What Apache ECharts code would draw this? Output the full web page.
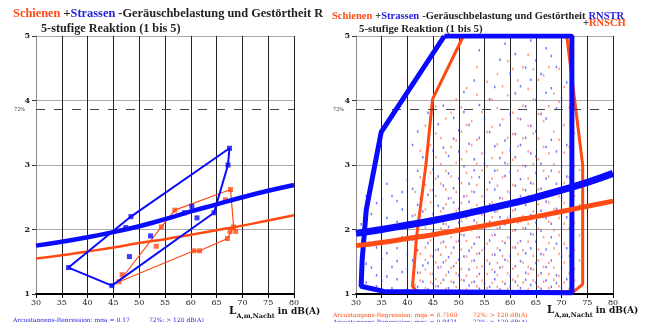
<!DOCTYPE html>
<html>
<head>
<meta charset="utf-8">
<script src="https://cdn.jsdelivr.net/npm/echarts@6/dist/echarts.min.js"></script>
<style>
  html, body { margin: 0; background: #fff; }
  #chart { width: 646px; height: 322px; }
</style>
</head>
<body>
<div id="chart"></div>
<script>
// regression curves, sampled along the x axis
const regX = [30, 35, 40, 45, 50, 55, 60, 65, 70, 75, 80];
const leftBlueReg = [1.75, 1.81, 1.88, 1.96, 2.05, 2.16, 2.28, 2.39, 2.50, 2.60, 2.69];
const leftOrangeReg = [1.55, 1.60, 1.66, 1.72, 1.79, 1.85, 1.92, 1.99, 2.06, 2.14, 2.22];
const rightBlueReg = [1.94, 2.00, 2.07, 2.14, 2.22, 2.31, 2.40, 2.50, 2.61, 2.73, 2.87];
const rightOrangeReg = [1.75, 1.80, 1.86, 1.92, 1.99, 2.06, 2.13, 2.20, 2.28, 2.36, 2.44];

// left: class means (squares) and their outlines
const leftBlueLoop = [[36.3, 1.41], [48.4, 2.20], [67.5, 3.26], [67.2, 3.00], [64.5, 2.26], [44.7, 1.13], [36.3, 1.41]];
const leftBlueExtra = [[47.4, 2.03], [52.2, 1.90], [48.1, 1.58], [58.8, 2.26], [60.2, 2.36], [61.2, 2.18]];
const leftOrangeLoop = [[46.1, 1.19], [54.3, 2.04], [56.9, 2.30], [67.7, 2.62], [68.3, 2.04], [67.1, 1.86], [61.7, 1.67], [60.6, 1.67], [46.1, 1.19]];
const leftOrangeExtra = [[46.7, 1.30], [53.3, 1.74], [66.7, 2.46], [67.6, 1.97], [68.7, 1.97]];

// right: envelopes of the single answers
const rightBlueHull = [[47.2, 5], [34.9, 3.51], [32.0, 2.31], [31.2, 1.53], [31.0, 1.12], [35.4, 1.04], [72.0, 1.02], [72.0, 5], [47.2, 5]];
const rightOrangeHull = [[50.9, 5], [44.9, 4.02], [43.6, 3.0], [41.8, 1.9], [41.0, 1.12], [41.8, 1.04], [72.4, 1.04], [74.1, 1.15], [74.1, 3.0], [71.0, 5], [50.9, 5]];

// right: single answers, by level column
const rightBlueCols = [
  [31, [1.32, 1.61, 2.08]],
  [32, [1.18, 1.47, 1.93, 2.52]],
  [33, [1.41, 1.77, 2.24, 2.63]],
  [34, [1.12, 1.29, 1.72, 2.41]],
  [35, [1.21, 1.54, 1.96, 2.47]],
  [36, [1.27, 1.63, 2.18, 2.71]],
  [37, [1.09, 1.42, 1.83, 2.52]],
  [38, [1.23, 1.51, 1.71, 2.12, 2.44]],
  [39, [1.34, 1.88, 2.31, 2.58]],
  [40, [1.08, 1.39, 1.62, 2.03, 2.77]],
  [41, [1.17, 1.52, 1.84, 2.21, 2.63, 3.31]],
  [42, [1.11, 1.33, 1.68, 2.02, 2.38, 2.91, 3.52]],
  [43, [1.19, 1.44, 1.87, 2.28, 2.73, 3.12]],
  [44, [1.07, 1.48, 1.79, 2.13, 2.54, 3.38, 3.81]],
  [45, [1.16, 1.31, 1.58, 1.97, 2.24, 2.61, 2.93, 3.22]],
  [46, [1.12, 1.41, 1.69, 1.92, 2.37, 2.82, 3.63]],
  [47, [1.22, 1.49, 1.81, 2.09, 2.33, 2.68, 3.27, 3.92]],
  [48, [1.09, 1.34, 1.57, 2.04, 2.48, 2.87, 3.14, 4.52]],
  [49, [1.18, 1.43, 1.72, 2.19, 2.42, 2.64, 3.41, 3.73]],
  [50, [1.06, 1.29, 1.53, 1.82, 2.11, 2.32, 2.79, 3.21, 3.54]],
  [51, [1.21, 1.58, 1.91, 2.23, 2.51, 2.98, 3.82, 4.13]],
  [52, [1.13, 1.38, 1.67, 2.02, 2.43, 2.71, 3.33, 3.62]],
  [53, [1.19, 1.52, 1.78, 2.14, 2.58, 2.92, 3.09, 4.31]],
  [54, [1.08, 1.31, 1.63, 1.88, 2.27, 2.81, 3.42, 3.93, 4.78]],
  [55, [1.17, 1.42, 1.71, 2.01, 2.22, 2.53, 3.02, 3.19, 3.71]],
  [56, [1.11, 1.47, 1.83, 2.12, 2.39, 2.73, 3.51, 4.02]],
  [57, [1.23, 1.34, 1.61, 1.92, 2.28, 2.62, 2.91, 3.29, 4.21]],
  [58, [1.07, 1.41, 1.68, 2.03, 2.19, 2.49, 3.11, 3.62, 4.63]],
  [59, [1.16, 1.53, 1.79, 2.08, 2.41, 2.83, 3.03, 3.38, 4.88]],
  [60, [1.12, 1.28, 1.59, 1.87, 2.21, 2.57, 2.89, 3.23, 3.79, 4.42]],
  [61, [1.19, 1.43, 1.72, 1.99, 2.31, 2.68, 3.12, 3.48, 4.11, 4.72]],
  [62, [1.09, 1.51, 1.82, 2.13, 2.52, 2.78, 3.31, 3.71, 4.22]],
  [63, [1.22, 1.33, 1.63, 2.02, 2.38, 2.61, 2.98, 3.42, 3.91, 4.51]],
  [64, [1.14, 1.39, 1.71, 1.93, 2.22, 2.72, 3.18, 3.61, 4.32, 4.93]],
  [65, [1.18, 1.48, 1.81, 2.11, 2.47, 2.88, 3.13, 3.52, 4.01, 4.62]],
  [66, [1.08, 1.32, 1.62, 1.98, 2.29, 2.63, 3.02, 3.79, 4.41]],
  [67, [1.21, 1.42, 1.69, 2.18, 2.43, 2.79, 3.28, 3.72, 4.12, 4.81]],
  [68, [1.11, 1.52, 1.88, 2.09, 2.58, 2.91, 3.39, 4.19, 4.69]],
  [69, [1.17, 1.29, 1.78, 2.32, 2.71, 3.21, 3.88, 4.52]],
  [70, [1.09, 1.41, 1.58, 2.01, 2.49, 2.98, 3.61, 4.03, 4.91]],
  [71, [1.23, 1.71, 2.19, 2.82, 3.31, 4.28]]
];
const rightOrangeCols = [
  [41.5, [1.14, 1.42, 1.81, 2.23, 2.58]],
  [42.5, [1.21, 1.33, 1.62, 1.91, 2.12, 2.48, 2.81, 3.22]],
  [43.5, [1.09, 1.38, 1.53, 1.72, 2.03, 2.31, 2.69, 3.02, 3.61]],
  [44.5, [1.18, 1.31, 1.59, 1.83, 2.09, 2.42, 2.61, 2.88, 3.31]],
  [45.5, [1.12, 1.23, 1.49, 1.68, 1.92, 2.19, 2.52, 2.79, 3.12, 3.49, 3.91]],
  [46.5, [1.17, 1.42, 1.61, 1.79, 2.02, 2.28, 2.71, 3.01, 3.42]],
  [47.5, [1.08, 1.29, 1.52, 1.73, 2.08, 2.39, 2.62, 2.91, 3.19, 3.72]],
  [48.5, [1.19, 1.41, 1.63, 1.88, 2.21, 2.49, 2.82, 3.28, 3.81]],
  [49.5, [1.11, 1.32, 1.48, 1.81, 2.02, 2.29, 2.58, 3.03, 3.38, 4.02]],
  [50.5, [1.22, 1.39, 1.69, 1.92, 2.13, 2.41, 2.72, 3.09, 3.52, 3.89]],
  [51.5, [1.07, 1.28, 1.58, 1.82, 2.18, 2.52, 2.88, 3.21, 3.62, 4.19]],
  [52.5, [1.18, 1.51, 1.72, 1.99, 2.32, 2.59, 2.81, 3.31, 3.68]],
  [53.5, [1.12, 1.27, 1.41, 1.62, 1.88, 2.11, 2.38, 2.69, 3.02, 3.39, 4.09, 4.52]],
  [54.5, [1.21, 1.43, 1.68, 2.01, 2.23, 2.51, 2.92, 3.18, 3.82]],
  [55.5, [1.09, 1.31, 1.52, 1.78, 2.09, 2.31, 2.62, 2.98, 3.51, 4.29]],
  [56.5, [1.17, 1.38, 1.61, 1.91, 2.19, 2.42, 2.79, 3.11, 3.59, 4.01]],
  [57.5, [1.11, 1.29, 1.48, 1.71, 2.02, 2.28, 2.68, 2.92, 3.32, 3.88, 4.41]],
  [58.5, [1.19, 1.42, 1.59, 1.82, 2.12, 2.48, 2.81, 3.19, 3.71, 4.22]],
  [59.5, [1.08, 1.32, 1.51, 1.88, 2.18, 2.41, 2.59, 3.01, 3.42, 4.08, 4.61]],
  [60.5, [1.22, 1.39, 1.72, 1.98, 2.29, 2.69, 3.08, 3.48, 3.81, 4.49]],
  [61.5, [1.13, 1.28, 1.62, 1.79, 2.11, 2.38, 2.91, 3.29, 3.72, 4.31]],
  [62.5, [1.18, 1.49, 1.68, 2.02, 2.21, 2.62, 2.99, 3.41, 3.92, 4.52]],
  [63.5, [1.07, 1.31, 1.42, 1.81, 2.09, 2.52, 2.79, 3.21, 3.61, 4.18, 4.71]],
  [64.5, [1.21, 1.38, 1.59, 1.92, 2.28, 2.71, 3.02, 3.49, 4.02, 4.48]],
  [65.5, [1.11, 1.29, 1.52, 1.69, 2.01, 2.39, 2.62, 3.09, 3.41, 3.79, 4.32]],
  [66.5, [1.19, 1.42, 1.61, 1.88, 2.19, 2.49, 2.91, 3.28, 3.68, 4.39]],
  [67.5, [1.09, 1.31, 1.48, 1.79, 2.12, 2.42, 2.82, 3.18, 3.91, 4.52]],
  [68.5, [1.22, 1.41, 1.71, 1.99, 2.31, 2.58, 3.01, 3.52, 4.11]],
  [69.5, [1.12, 1.28, 1.62, 1.91, 2.18, 2.51, 2.89, 3.39, 3.98, 4.49]],
  [70.5, [1.18, 1.49, 1.78, 2.09, 2.41, 2.72, 3.19, 3.62, 4.21]],
  [71.5, [1.08, 1.32, 1.59, 2.02, 2.29, 2.81, 3.28, 3.89]],
  [72.5, [1.21, 1.39, 1.68, 2.11, 2.52, 2.98, 3.49]],
  [73.5, [1.12, 1.52, 1.91, 2.38, 2.92]]
];

const line72 = 3.86;

const ORANGE = '#ff4a14';
const BLUE = '#0a0aff';
const SERIF = '"DejaVu Serif", "Liberation Serif", serif';
const TSERIF = '"Liberation Serif", "DejaVu Serif", serif';

const flat = cols => cols.flatMap(([x, ys]) => ys.map(y => [x, y]));
const zipReg = ys => regX.map((x, i) => [x, ys[i]]);

const xAxisBase = (gi) => ({
  gridIndex: gi, type: 'value', min: 30, max: 80, interval: 5,
  axisLine: { lineStyle: { color: '#000', width: 2 } },
  axisTick: { length: 4, lineStyle: { color: '#000' } },
  axisLabel: { color: '#222', fontFamily: SERIF, fontSize: 8, margin: 5 },
  splitLine: { show: true, lineStyle: { color: '#222', width: 1 } }
});
const yAxisBase = (gi) => ({
  gridIndex: gi, type: 'value', min: 1, max: 5, interval: 1,
  axisLine: { show: true, lineStyle: { color: '#888', width: 1 } },
  axisTick: { show: true, length: 4, lineStyle: { color: '#333' } },
  axisLabel: { color: '#222', fontFamily: SERIF, fontWeight: 'bold', fontSize: 8, margin: 6 },
  splitLine: { show: true, lineStyle: { color: '#aaa', width: 1 } }
});

const dashed72 = {
  silent: true, symbol: 'none', label: { show: false },
  lineStyle: { color: '#444', type: [9, 9], width: 1 },
  data: [{ yAxis: line72 }]
};

const lineS = (xi, data, color, width, extra) => Object.assign({
  type: 'line', xAxisIndex: xi, yAxisIndex: xi, data: data,
  showSymbol: false, symbol: 'none', silent: true, animation: false,
  lineStyle: { color: color, width: width }, itemStyle: { color: color }
}, extra || {});

const squares = (xi, data, color) => ({
  type: 'scatter', xAxisIndex: xi, yAxisIndex: xi, data: data,
  symbol: 'rect', symbolSize: 5, itemStyle: { color: color }, silent: true, animation: false
});

const dots = (data, color) => ({
  type: 'scatter', xAxisIndex: 1, yAxisIndex: 1, data: data,
  symbol: 'rect', symbolSize: [1.5, 2.5], itemStyle: { color: color }, silent: true, animation: false
});

const rt = (x, y, rich, text, z) => ({
  type: 'text', left: x, top: y, z: z || 40, silent: true,
  style: { text: text, rich: rich, fontFamily: TSERIF, fontWeight: 'bold' }
});

const titleRich = (fs) => ({
  o: { fill: ORANGE, fontSize: fs, fontFamily: TSERIF, fontWeight: 'bold' },
  b: { fill: '#2222dd', fontSize: fs, fontFamily: TSERIF, fontWeight: 'bold' },
  k: { fill: '#222', fontSize: fs, fontFamily: TSERIF, fontWeight: 'bold' }
});
const axisNameRich = {
  l: { fill: '#111', fontSize: 10.5, fontFamily: SERIF, fontWeight: 'bold', lineHeight: 16, verticalAlign: 'middle' },
  s: { fill: '#111', fontSize: 6.5, fontFamily: SERIF, fontWeight: 'bold', lineHeight: 16, verticalAlign: 'bottom' },
  n: { fill: '#111', fontSize: 9, fontFamily: SERIF, fontWeight: 'bold', lineHeight: 16, verticalAlign: 'middle' }
};
const footRich = {
  o: { fill: ORANGE, fontSize: 6, fontFamily: SERIF },
  b: { fill: '#2222dd', fontSize: 6, fontFamily: SERIF }
};

const chart = echarts.init(document.getElementById('chart'));
chart.setOption({
  backgroundColor: '#fff',
  animation: false,
  grid: [
    { left: 36, top: 36, width: 258, height: 258 },
    { left: 356, top: 36, width: 257, height: 258 }
  ],
  xAxis: [xAxisBase(0), xAxisBase(1)],
  yAxis: [yAxisBase(0), yAxisBase(1)],
  graphic: [
    rt(13, 8, titleRich(12.4), '{o|Schienen} {k|+}{b|Strassen} {k|-Geräuschbelastung und Gestörtheit RNSTR}', 40),
    { type: 'rect', shape: { x: 323, y: 0, width: 323, height: 26 }, style: { fill: '#fff' }, z: 50, silent: true },
    rt(41, 23, titleRich(12.2), '{k|5-stufige Reaktion (1 bis 5)}', 40),
    rt(332, 10, titleRich(10.5), '{o|Schienen} {k|+}{b|Strassen} {k|-Geräuschbelastung und Gestörtheit} {b|RNSTR}', 60),
    rt(583, 18, titleRich(10.5), '{k|+}{o|RNSCH}', 60),
    rt(359, 24, titleRich(10.8), '{k|5-stufige Reaktion (1 bis 5)}', 60),
    rt(14, 107, { k: { fill: '#333', fontSize: 5, fontFamily: SERIF } }, '{k|72%}', 40),
    rt(333, 107, { k: { fill: '#333', fontSize: 5, fontFamily: SERIF } }, '{k|72%}', 40),
    rt(229, 306, axisNameRich, '{l|L}{s|A,m,Nacht}{n| in dB(A)}', 40),
    rt(547, 305, axisNameRich, '{l|L}{s|A,m,Nacht}{n| in dB(A)}', 40),
    rt(13, 317, footRich, '{b|Arcustangens-Regression: mqa = 0.17          72%: > 120 dB(A)}', 40),
    rt(333, 312, footRich, '{o|Arcustangens-Regression: mqa = 0.7160        72%: > 120 dB(A)}', 40),
    rt(333, 319, footRich, '{b|Arcustangens-Regression: mqa = 0.9471        72%: > 120 dB(A)}', 40)
  ],
  series: [
    // left panel
    lineS(0, [], '#000', 1, { markLine: dashed72 }),
    lineS(0, leftOrangeLoop, ORANGE, 1.2, { z: 3 }),
    squares(0, leftOrangeLoop.slice(0, -1).concat(leftOrangeExtra), ORANGE),
    lineS(0, zipReg(leftOrangeReg), ORANGE, 2.5, { smooth: true, z: 4 }),
    lineS(0, leftBlueLoop, BLUE, 2, { z: 5 }),
    lineS(0, zipReg(leftBlueReg), BLUE, 4.5, { smooth: true, z: 6 }),
    Object.assign(squares(0, leftBlueLoop.slice(0, -1).concat(leftBlueExtra), BLUE), { z: 7 }),
    // right panel
    lineS(1, [], '#000', 1, { markLine: dashed72 }),
    dots(flat(rightOrangeCols), 'rgba(255,95,50,0.8)'),
    dots(flat(rightBlueCols), 'rgba(40,40,255,0.8)'),
    lineS(1, rightOrangeHull, ORANGE, 3, { z: 4 }),
    lineS(1, rightBlueHull, BLUE, 5, { z: 5 }),
    lineS(1, zipReg(rightBlueReg), BLUE, 7, { smooth: true, z: 6 }),
    lineS(1, zipReg(rightOrangeReg), ORANGE, 5, { smooth: true, z: 7 })
  ]
});
</script>
</body>
</html>
